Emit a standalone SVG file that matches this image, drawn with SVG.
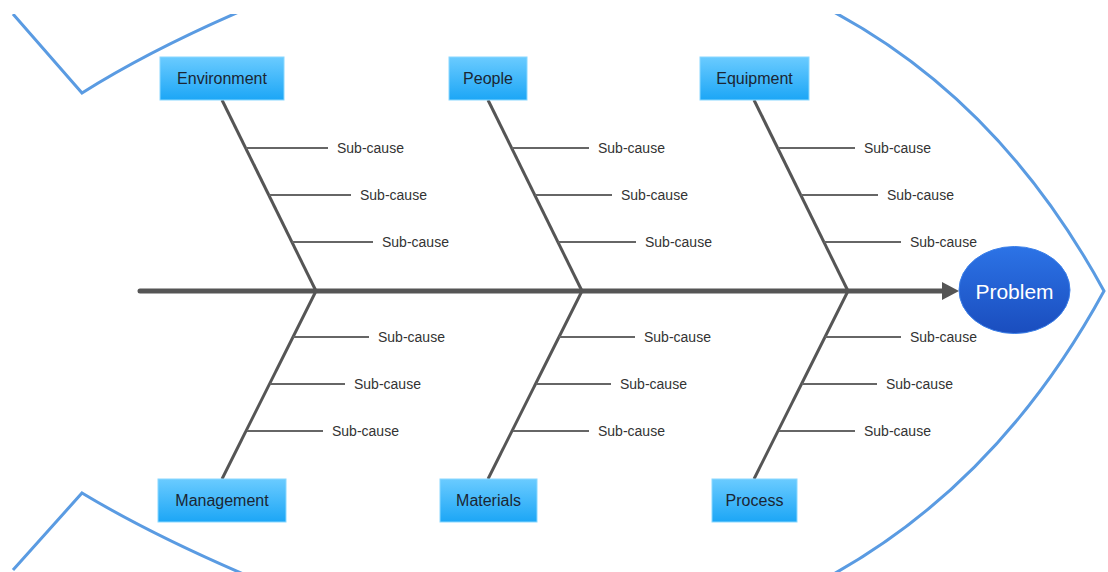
<svg xmlns="http://www.w3.org/2000/svg" width="1108" height="572" viewBox="0 0 1108 572">
<defs>
<linearGradient id="boxGrad" x1="0" y1="0" x2="0" y2="1">
<stop offset="0" stop-color="#6ACBFF"/>
<stop offset="1" stop-color="#1CA6F6"/>
</linearGradient>
<linearGradient id="probGrad" x1="0" y1="0" x2="0" y2="1">
<stop offset="0" stop-color="#2C73E6"/>
<stop offset="1" stop-color="#1A4DBE"/>
</linearGradient>
<clipPath id="frame"><rect x="0" y="14" width="1108" height="558"/></clipPath>
</defs>
<style>
.outline{fill:none;stroke:#5A9BE2;stroke-width:3;stroke-linejoin:miter}
.spine{stroke:#555;stroke-width:5;stroke-linecap:round;fill:none}
.bone{stroke:#555;stroke-width:3;fill:none}
.sub{stroke:#666;stroke-width:2;fill:none}
.box{fill:url(#boxGrad);stroke:#8AD8FF;stroke-width:1}
.lbl{font-family:"Liberation Sans",Arial,sans-serif;font-size:16px;fill:#1B2633;text-anchor:middle;dominant-baseline:central}
.st{font-family:"Liberation Sans",Arial,sans-serif;font-size:14px;fill:#333;dominant-baseline:central}
.ptxt{font-family:"Liberation Sans",Arial,sans-serif;font-size:21px;fill:#fff;text-anchor:middle;dominant-baseline:central}
</style>
<rect width="1108" height="572" fill="#fff"/>
<g id="fish-outline" clip-path="url(#frame)">
<path class="outline" d="M13,14 L82,93 Q150,50 248,8"/>
<path class="outline" d="M13,570 L82,493 Q150,534 248,576"/>
<path class="outline" d="M830,10 Q1000,100 1104,291 Q1000,482 830,576"/>
</g>
<g id="connectors">
<line class="spine" x1="140" y1="291" x2="944" y2="291"/>
<polygon points="942,282 959,291 942,300" fill="#555"/>
<line class="bone" x1="222" y1="100" x2="316" y2="291"/>
<line class="bone" x1="488" y1="100" x2="582" y2="291"/>
<line class="bone" x1="754" y1="100" x2="848" y2="291"/>
<line class="bone" x1="316" y1="291" x2="222" y2="479"/>
<line class="bone" x1="582" y1="291" x2="488" y2="479"/>
<line class="bone" x1="848" y1="291" x2="754" y2="479"/>
<!-- environment subs -->
<line class="sub" x1="246" y1="148" x2="328" y2="148"/>
<line class="sub" x1="269" y1="195" x2="351" y2="195"/>
<line class="sub" x1="292" y1="242" x2="373" y2="242"/>
<line class="sub" x1="293" y1="337" x2="369" y2="337"/>
<line class="sub" x1="270" y1="384" x2="345" y2="384"/>
<line class="sub" x1="247" y1="431" x2="323" y2="431"/>
<!-- people / materials subs -->
<line class="sub" x1="512" y1="148" x2="589" y2="148"/>
<line class="sub" x1="535" y1="195" x2="612" y2="195"/>
<line class="sub" x1="558" y1="242" x2="636" y2="242"/>
<line class="sub" x1="559" y1="337" x2="635" y2="337"/>
<line class="sub" x1="536" y1="384" x2="611" y2="384"/>
<line class="sub" x1="513" y1="431" x2="589" y2="431"/>
<!-- equipment / process subs -->
<line class="sub" x1="778" y1="148" x2="855" y2="148"/>
<line class="sub" x1="801" y1="195" x2="878" y2="195"/>
<line class="sub" x1="824" y1="242" x2="901" y2="242"/>
<line class="sub" x1="825" y1="337" x2="901" y2="337"/>
<line class="sub" x1="802" y1="384" x2="877" y2="384"/>
<line class="sub" x1="779" y1="431" x2="855" y2="431"/>
</g>
<g id="subcause-labels">
<text class="st" x="337" y="148">Sub-cause</text>
<text class="st" x="360" y="195">Sub-cause</text>
<text class="st" x="382" y="242">Sub-cause</text>
<text class="st" x="378" y="337">Sub-cause</text>
<text class="st" x="354" y="384">Sub-cause</text>
<text class="st" x="332" y="431">Sub-cause</text>
<text class="st" x="598" y="148">Sub-cause</text>
<text class="st" x="621" y="195">Sub-cause</text>
<text class="st" x="645" y="242">Sub-cause</text>
<text class="st" x="644" y="337">Sub-cause</text>
<text class="st" x="620" y="384">Sub-cause</text>
<text class="st" x="598" y="431">Sub-cause</text>
<text class="st" x="864" y="148">Sub-cause</text>
<text class="st" x="887" y="195">Sub-cause</text>
<text class="st" x="910" y="242">Sub-cause</text>
<text class="st" x="910" y="337">Sub-cause</text>
<text class="st" x="886" y="384">Sub-cause</text>
<text class="st" x="864" y="431">Sub-cause</text>
</g>
<g id="environment"><rect class="box" x="160" y="57" width="124" height="43"/><text class="lbl" x="222" y="78.5">Environment</text></g>
<g id="people"><rect class="box" x="449" y="57" width="78" height="43"/><text class="lbl" x="488" y="78.5">People</text></g>
<g id="equipment"><rect class="box" x="700" y="57" width="109" height="43"/><text class="lbl" x="754.5" y="78.5">Equipment</text></g>
<g id="management"><rect class="box" x="158" y="479" width="128" height="43"/><text class="lbl" x="222" y="500.5">Management</text></g>
<g id="materials"><rect class="box" x="440" y="479" width="97" height="43"/><text class="lbl" x="488.5" y="500.5">Materials</text></g>
<g id="process"><rect class="box" x="712" y="479" width="85" height="43"/><text class="lbl" x="754.5" y="500.5">Process</text></g>
<g id="problem"><ellipse cx="1014.5" cy="290" rx="55.5" ry="43.5" fill="url(#probGrad)" stroke="#3B7FE8" stroke-width="1"/><text class="ptxt" x="1014.5" y="291">Problem</text></g>
</svg>
